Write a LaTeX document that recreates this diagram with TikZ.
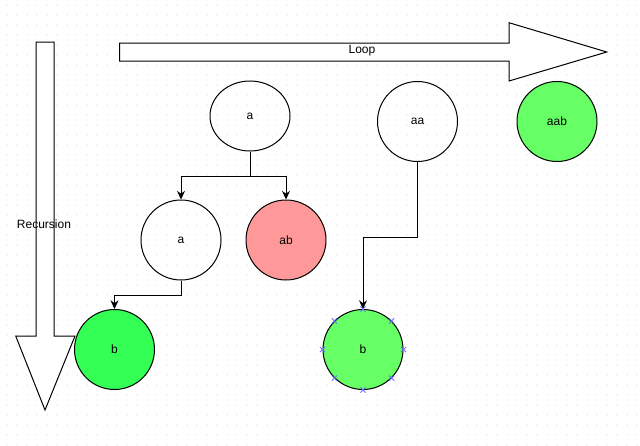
\documentclass[tikz,border=0pt]{standalone}
\usepackage{fontspec}
\setmainfont{Liberation Sans}
\usetikzlibrary{positioning}
\usetikzlibrary{arrows.meta}
\usetikzlibrary{shapes.geometric}
\definecolor{failed}{RGB}{255,153,153}
\definecolor{found}{RGB}{102,255,102}
\definecolor{deep}{RGB}{51,255,85}
\definecolor{griddot}{RGB}{212,212,212}
\definecolor{marker}{RGB}{110,110,255}

\begin{document}
\begin{tikzpicture}[%
  x=0.75pt, y=-0.75pt,
  every node/.style={font=\fontsize{9}{11}\selectfont},
  state/.style={draw, line width=0.75pt, circle, minimum size=60pt, inner sep=0pt},
  root/.style={draw, line width=0.75pt, ellipse, minimum width=60pt, minimum height=52.5pt, inner sep=0pt},
  block/.style={draw, line width=0.75pt, fill=white, line join=miter},
  edge/.style={line width=0.75pt, -{Stealth[length=6.5pt,width=6pt]}},
]

  \useasboundingbox[fill=white] (0,0) rectangle (640,446);

  % dotted page grid
  \foreach \gx in {7,17,...,637}
    \foreach \gy in {5,15,...,445}
      \fill[griddot] (\gx,\gy) circle (0.45pt);

  % Loop / Recursion arrows
  \draw[block] (119.5,43) -- (509,43) -- (509,22.7) -- (606.7,52)
    -- (509,81) -- (509,61) -- (119.5,61) -- cycle;
  \draw[block] (36,42) -- (54,42) -- (54,336) -- (75,336)
    -- (45,410) -- (15.7,336) -- (36,336) -- cycle;

  \node (loop) at (362,51) {Loop};
  \node (rec) at (44,224) {Recursion};

  % search tree
  \node[root] (a0) at (250,116) {a};
  \node[state] (a1) at (181,240) {a};
  \node[state, fill=failed] (ab) at (286,240) {ab};
  \node[state, fill=deep] (b1) at (114.5,349.5) {b};

  \node[state] (aa) at (417.5,121.5) {aa};
  \node[state, fill=found] (aab) at (557,121.5) {aab};
  \node[state, fill=found] (b2) at (363,349.5) {b};

  \coordinate (fork) at (250,176);
  \draw[line width=0.75pt] (a0) -- (fork);
  \draw[edge] (fork) -| (a1);
  \draw[edge] (fork) -| (ab);
  \draw[edge] (a1.south) -- ++(0,15) -| (b1);
  \draw[edge] (aa.south) -- ++(0,75) -| (b2);

  % connection markers
  \foreach \a in {0,45,...,315}
    \draw[marker, line width=0.7pt] (b2.\a) +(-2.6,-2.6) -- +(2.6,2.6)
      +(-2.6,2.6) -- +(2.6,-2.6);

\end{tikzpicture}
\end{document}
